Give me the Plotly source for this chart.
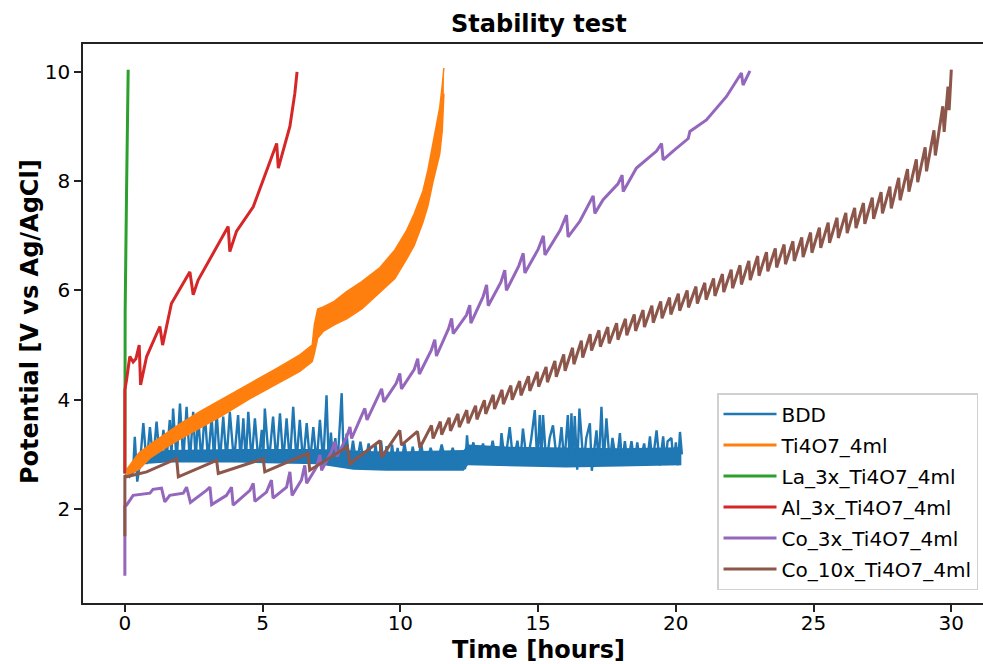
import plotly.graph_objects as go

# ---------------- data ----------------
# BDD: dense body of the signal (band) and its spikes
bdd_band_x = [0.15, 0.6, 1.5, 4.0, 7.0, 8.3, 9.5, 12.3, 12.45, 14.0, 16.0, 18.0, 20.2]
bdd_band_low = [2.55, 2.82, 2.85, 2.85, 2.82, 2.72, 2.70, 2.70, 2.80, 2.78, 2.76, 2.78, 2.80]
bdd_band_high = [2.75, 3.02, 3.08, 3.10, 3.10, 3.08, 3.05, 3.08, 3.18, 3.14, 3.13, 3.11, 3.13]

bdd_x = [0.12, 0.30, 0.36, 0.45, 0.55, 0.67, 0.79, 0.91, 1.03, 1.15, 1.28, 1.40, 1.51, 1.63, 1.69,
         1.75, 1.88, 2.00, 2.12, 2.24, 2.36, 2.48, 2.57, 2.66, 2.78, 2.90, 3.02, 3.15, 3.24, 3.33,
         3.45, 3.57, 3.69, 3.81, 3.96, 4.11, 4.20, 4.30, 4.39, 4.48, 4.60, 4.72, 4.85, 4.97, 5.02,
         5.08, 5.23, 5.38, 5.50, 5.63, 5.75, 5.87, 5.99, 6.11, 6.23, 6.35, 6.47, 6.60, 6.72, 6.84,
         6.96, 7.08, 7.20, 7.32, 7.40, 7.48, 7.56, 7.64, 7.72, 7.87, 7.95, 8.05, 8.15, 8.28, 8.41,
         8.55, 8.70, 8.85, 9.00, 9.10, 9.20, 9.30, 9.40, 9.50, 9.60, 9.70, 9.80, 9.90, 10.0, 10.15,
         10.3, 10.45, 10.6, 10.75, 10.9, 11.1, 11.3, 11.5, 11.7, 11.9, 12.1, 12.35, 12.42, 12.5, 12.65,
         12.8, 13.0, 13.2, 13.35, 13.5, 13.6, 13.67, 13.8, 13.97, 14.1, 14.25, 14.35, 14.45, 14.6, 14.75,
         14.88, 14.97, 15.06, 15.12, 15.18, 15.3, 15.42, 15.54, 15.7, 15.85, 15.95, 16.08, 16.15, 16.21, 16.27,
         16.33, 16.42, 16.50, 16.65, 16.75, 16.88, 16.95, 17.12, 17.2, 17.30, 17.38, 17.48, 17.6, 17.7, 17.85,
         17.97, 18.05, 18.15, 18.25, 18.39, 18.5, 18.6, 18.7, 18.85, 18.95, 19.06, 19.15, 19.30, 19.42, 19.54,
         19.62, 19.7, 19.84, 19.92, 20.0, 20.08, 20.15, 20.22]
bdd_y = [2.62, 2.70, 3.32, 2.50, 2.85, 3.57, 2.82, 3.50, 2.88, 3.60, 2.85, 3.45, 2.88, 3.63, 2.95,
         3.84, 2.87, 3.93, 2.88, 3.87, 2.86, 3.78, 2.90, 3.69, 2.86, 3.78, 2.88, 3.69, 2.87, 3.78,
         2.86, 3.69, 2.88, 3.78, 2.86, 3.72, 2.88, 3.66, 2.86, 3.78, 2.87, 3.66, 2.85, 3.45, 2.88,
         3.84, 2.86, 3.69, 2.85, 3.75, 2.86, 3.66, 2.84, 3.87, 2.86, 3.63, 2.84, 3.57, 2.85, 3.50,
         2.83, 3.63, 2.84, 4.08, 2.83, 3.40, 2.84, 3.30, 2.83, 4.12, 2.80, 3.38, 2.78, 3.25, 2.80,
         3.23, 2.78, 3.20, 2.75, 3.18, 2.74, 3.25, 2.75, 3.15, 2.74, 3.18, 2.72, 3.12, 2.73, 3.20,
         2.73, 3.14, 2.72, 3.22, 2.72, 3.12, 2.73, 3.18, 2.73, 3.12, 2.74, 2.75, 3.35, 2.85, 3.22,
         2.82, 3.20, 2.82, 3.25, 2.84, 2.82, 3.39, 2.85, 3.50, 2.85, 3.25, 2.84, 3.47, 2.82, 3.28,
         3.81, 2.85, 3.72, 2.86, 3.72, 2.82, 3.30, 3.53, 2.80, 3.50, 2.82, 3.72, 2.80, 3.75, 2.82,
         3.70, 2.72, 3.84, 2.80, 3.30, 3.57, 2.70, 3.44, 2.80, 3.87, 2.82, 3.66, 2.84, 3.30, 2.82,
         3.39, 2.82, 3.24, 2.82, 3.24, 2.82, 3.22, 2.84, 3.20, 2.82, 3.33, 2.82, 3.44, 2.80, 3.33,
         2.82, 3.24, 3.30, 2.82, 3.22, 2.80, 3.41, 3.00]

# Ti4O7_4ml: thick oscillating band (upper / lower envelope)
ti_x = [0.06, 0.5, 0.91, 1.5, 2.0, 2.72, 3.5, 4.54, 5.5, 6.35, 6.8, 6.88, 7.0, 7.2, 7.6, 8.05,
        8.6, 9.26, 9.8, 10.23, 10.5, 10.82, 11.0, 11.18, 11.3, 11.43, 11.52, 11.58]
ti_upper = [2.72, 3.02, 3.18, 3.38, 3.56, 3.78, 4.00, 4.30, 4.57, 4.82, 5.00, 5.38, 5.66, 5.70, 5.80, 5.98,
            6.16, 6.42, 6.74, 7.10, 7.40, 7.82, 8.20, 8.68, 9.00, 9.35, 9.75, 10.07]
ti_lower = [2.62, 2.72, 2.93, 3.13, 3.28, 3.48, 3.70, 4.02, 4.28, 4.52, 4.70, 4.85, 5.13, 5.25, 5.37, 5.48,
            5.66, 5.96, 6.22, 6.58, 6.82, 7.25, 7.55, 7.98, 8.22, 8.50, 8.92, 9.60]

# La_3x_Ti4O7_4ml
la_x = [0.0, 0.0, 0.0, 0.01, 0.06, 0.12]
la_y = [2.65, 4.27, 5.45, 5.60, 7.78, 10.04]

# Al_3x_Ti4O7_4ml
al_x = [0.0, 0.0, 0.06, 0.18, 0.30, 0.40, 0.52, 0.57, 0.79, 1.27, 1.37, 1.69, 2.36, 2.48, 2.66,
        3.75, 3.81, 4.05, 4.66, 5.51, 5.57, 5.99, 6.17, 6.25]
al_y = [2.65, 4.18, 4.36, 4.79, 4.69, 4.75, 5.00, 4.27, 4.79, 5.34, 5.00, 5.76, 6.34, 5.92, 6.19,
        7.17, 6.71, 7.08, 7.53, 8.69, 8.24, 9.00, 9.61, 10.00]

# Co_3x_Ti4O7_4ml
co3_x = [0.0, 0.0, 0.0, 0.06, 0.3, 0.91, 1.02, 1.33, 1.45, 1.63, 2.12, 2.24, 2.38, 2.96, 3.09,
         3.15, 3.69, 3.87, 3.93, 4.54, 4.66, 4.72, 5.14, 5.32, 5.38, 5.87, 5.99, 6.07, 6.41, 6.53,
         6.6, 6.96, 7.08, 7.14, 7.5, 7.62, 7.7, 8.05, 8.17, 8.23, 8.59, 8.71, 8.79, 9.19, 9.32,
         9.4, 9.85, 9.98, 10.04, 10.5, 10.63, 10.69, 11.12, 11.25, 11.31, 11.75, 11.86, 11.92, 12.4, 12.52,
         12.56, 13.0, 13.13, 13.19, 13.65, 13.79, 13.85, 14.3, 14.46, 14.52, 15.0, 15.19, 15.25, 15.8, 16.03,
         16.09, 16.52, 17.0, 17.06, 17.36, 17.9, 18.05, 18.09, 18.57, 19.3, 19.48, 19.54, 19.9, 20.45, 20.51,
         21.11, 21.84, 22.38, 22.44, 22.69]
co3_y = [0.78, 1.56, 2.05, 2.07, 2.25, 2.29, 2.36, 2.38, 2.13, 2.25, 2.29, 2.40, 2.12, 2.34, 2.40,
         2.08, 2.25, 2.40, 2.07, 2.34, 2.47, 2.14, 2.31, 2.53, 2.20, 2.40, 2.68, 2.25, 2.53, 2.80,
         2.47, 2.77, 2.99, 2.71, 3.05, 3.23, 2.96, 3.32, 3.50, 3.29, 3.69, 3.84, 3.63, 4.05, 4.20,
         3.96, 4.30, 4.48, 4.20, 4.55, 4.75, 4.47, 4.90, 5.10, 4.80, 5.30, 5.49, 5.21, 5.55, 5.73,
         5.40, 5.88, 6.10, 5.72, 6.15, 6.37, 6.00, 6.45, 6.68, 6.32, 6.75, 7.00, 6.65, 7.10, 7.38,
         6.98, 7.27, 7.73, 7.41, 7.66, 7.95, 8.11, 7.81, 8.24, 8.55, 8.69, 8.39, 8.55, 8.78, 8.91,
         9.12, 9.55, 9.98, 9.76, 10.02]

# Co_10x_Ti4O7_4ml
co10_x = [0.0, 0.0, 0.06, 0.79, 1.88, 1.94, 3.33, 3.39, 5.02, 5.08, 6.65, 6.71, 8.08, 8.17, 9.26,
          9.32, 9.98, 10.04, 10.62, 10.71, 11.13, 11.19,
          11.45, 11.50, 11.77, 11.82, 12.09, 12.14, 12.41, 12.46, 12.73, 12.78, 13.05, 13.10, 13.37, 13.42,
          13.69, 13.74, 14.01, 14.06, 14.33, 14.38, 14.65, 14.70, 14.97, 15.02, 15.29, 15.34, 15.61, 15.66,
          15.93, 15.98, 16.25, 16.30, 16.57, 16.62, 16.89, 16.94, 17.21, 17.26, 17.53, 17.58, 17.85, 17.90,
          18.17, 18.22, 18.49, 18.54, 18.81, 18.86, 19.13, 19.18, 19.45, 19.50, 19.77, 19.82, 20.09, 20.14,
          20.41, 20.46, 20.73, 20.78, 21.05, 21.10, 21.37, 21.42, 21.69, 21.74, 22.01, 22.06, 22.33, 22.38,
          22.65, 22.70, 22.97, 23.02, 23.29, 23.34, 23.61, 23.66, 23.93, 23.98, 24.25, 24.30, 24.57, 24.62,
          24.89, 24.94, 25.21, 25.26, 25.53, 25.58, 25.85, 25.90, 26.17, 26.22, 26.49, 26.54, 26.81, 26.86,
          27.13, 27.18, 27.45, 27.50, 27.77, 27.82, 28.09, 28.14, 28.41, 28.46, 28.73, 28.78, 29.05, 29.10,
          29.37, 29.42, 29.69, 29.74, 29.88, 29.92, 30.0]
co10_y = [1.50, 2.62, 2.59, 2.68, 2.92, 2.59, 2.89, 2.65, 2.92, 2.68, 3.02, 2.71, 3.14, 2.83, 3.25,
          2.95, 3.44, 3.17, 3.42, 3.12, 3.53, 3.29,
          3.60, 3.36, 3.67, 3.43, 3.74, 3.50, 3.81, 3.57, 3.89, 3.64, 3.99, 3.74, 4.09, 3.83,
          4.18, 3.92, 4.26, 4.00, 4.34, 4.08, 4.43, 4.16, 4.51, 4.24, 4.60, 4.32, 4.71, 4.42,
          4.83, 4.53, 4.95, 4.65, 5.08, 4.77, 5.20, 4.90, 5.27, 4.97, 5.33, 5.03, 5.40, 5.10,
          5.48, 5.18, 5.56, 5.26, 5.64, 5.33, 5.72, 5.41, 5.80, 5.49, 5.87, 5.56, 5.94, 5.63,
          6.00, 5.69, 6.07, 5.76, 6.14, 5.83, 6.22, 5.90, 6.30, 5.97, 6.38, 6.04, 6.46, 6.11,
          6.54, 6.19, 6.63, 6.27, 6.70, 6.35, 6.77, 6.42, 6.84, 6.48, 6.90, 6.54, 6.97, 6.61,
          7.06, 6.69, 7.15, 6.78, 7.24, 6.87, 7.33, 6.96, 7.42, 7.05, 7.51, 7.14, 7.60, 7.22,
          7.70, 7.31, 7.80, 7.41, 7.90, 7.50, 8.06, 7.65, 8.22, 7.81, 8.40, 7.98, 8.62, 8.18,
          8.93, 8.47, 9.37, 8.90, 9.73, 9.30, 10.04]

for a, b in [(bdd_x, bdd_y), (bdd_band_x, bdd_band_low), (bdd_band_x, bdd_band_high),
             (ti_x, ti_upper), (ti_x, ti_lower), (la_x, la_y), (al_x, al_y),
             (co3_x, co3_y), (co10_x, co10_y)]:
    assert len(a) == len(b), (len(a), len(b))

x_ticks = [0, 5, 10, 15, 20, 25, 30]
y_ticks = [2, 4, 6, 8, 10]

# ---------------- styling ----------------
C_BLUE, C_ORANGE, C_GREEN = "#1f77b4", "#ff7f0e", "#2ca02c"
C_RED, C_PURPLE, C_BROWN = "#d62728", "#9467bd", "#8c564b"
FONT = "DejaVu Sans"
LW = 3

fig = go.Figure()

# BDD band + spikes
fig.add_trace(go.Scatter(x=bdd_band_x, y=bdd_band_low, mode="lines", line=dict(width=0, color=C_BLUE),
                         showlegend=False, hoverinfo="skip", legendgroup="g1"))
fig.add_trace(go.Scatter(x=bdd_band_x, y=bdd_band_high, mode="lines", line=dict(width=0, color=C_BLUE),
                         fill="tonexty", fillcolor=C_BLUE, showlegend=False, hoverinfo="skip",
                         legendgroup="g1"))
fig.add_trace(go.Scatter(x=bdd_x, y=bdd_y, mode="lines", line=dict(width=2.4, color=C_BLUE),
                         name="BDD", legendrank=1, legendgroup="g1"))

# Ti4O7 band
fig.add_trace(go.Scatter(x=ti_x, y=ti_lower, mode="lines", line=dict(width=1.5, color=C_ORANGE),
                         showlegend=False, hoverinfo="skip", legendgroup="g2"))
fig.add_trace(go.Scatter(x=ti_x, y=ti_upper, mode="lines", line=dict(width=1.5, color=C_ORANGE),
                         fill="tonexty", fillcolor=C_ORANGE, showlegend=False, hoverinfo="skip",
                         legendgroup="g2"))
fig.add_trace(go.Scatter(x=[None], y=[None], mode="lines", line=dict(width=LW, color=C_ORANGE),
                         name="Ti4O7_4ml", legendrank=2, legendgroup="g2"))

fig.add_trace(go.Scatter(x=la_x, y=la_y, mode="lines", line=dict(width=LW, color=C_GREEN),
                         name="La_3x_Ti4O7_4ml", legendrank=3, legendgroup="g3"))
fig.add_trace(go.Scatter(x=al_x, y=al_y, mode="lines", line=dict(width=LW, color=C_RED),
                         name="Al_3x_Ti4O7_4ml", legendrank=4, legendgroup="g4"))
fig.add_trace(go.Scatter(x=co3_x, y=co3_y, mode="lines", line=dict(width=LW, color=C_PURPLE),
                         name="Co_3x_Ti4O7_4ml", legendrank=5, legendgroup="g5"))
fig.add_trace(go.Scatter(x=co10_x, y=co10_y, mode="lines", line=dict(width=LW, color=C_BROWN),
                         name="Co_10x_Ti4O7_4ml", legendrank=6, legendgroup="g6"))

W, H = 983, 664
ML, MR, MT, MB = 83, 0, 44, 61
pw, ph = W - ML - MR, H - MT - MB

def px_to_paper_x(px):
    return (px - ML) / pw

def px_to_paper_y(py):
    return (H - MB - py) / ph

axis_common = dict(showgrid=False, zeroline=False, showline=True, linecolor="#222222", linewidth=1.6,
                   ticks="outside", ticklen=7, tickwidth=1.6, tickcolor="#222222",
                   tickfont=dict(family=FONT, size=20, color="black"))

fig.update_layout(
    width=W, height=H,
    margin=dict(l=ML, r=MR, t=MT, b=MB, pad=0),
    plot_bgcolor="white", paper_bgcolor="white",
    font=dict(family=FONT, color="black"),
    xaxis=dict(range=[-1.52, 31.15], tickvals=x_ticks, mirror=True, ticklabelstandoff=-6,
               **axis_common),
    yaxis=dict(range=[0.28, 10.51], tickvals=y_ticks, mirror=False, **axis_common),
    showlegend=True,
    legend=dict(x=px_to_paper_x(717), y=px_to_paper_y(393), xanchor="left", yanchor="top",
                bgcolor="rgba(255,255,255,0.85)", bordercolor="#d0d0d0", borderwidth=1.5,
                font=dict(family=FONT, size=20, color="black"), tracegroupgap=2,
                itemwidth=53, traceorder="grouped", groupclick="toggleitem"),
    annotations=[
        dict(text="<b>Stability test</b>", xref="paper", yref="paper",
             x=px_to_paper_x(538.5), y=px_to_paper_y(24), xanchor="center", yanchor="middle",
             showarrow=False, font=dict(family=FONT, size=24, color="black")),
        dict(text="<b>Time [hours]</b>", xref="paper", yref="paper",
             x=px_to_paper_x(538.5), y=px_to_paper_y(650), xanchor="center", yanchor="middle",
             showarrow=False, font=dict(family=FONT, size=24, color="black")),
        dict(text="<b>Potential [V vs Ag/AgCl]</b>", xref="paper", yref="paper",
             x=px_to_paper_x(30), y=px_to_paper_y(322), xanchor="center", yanchor="middle",
             textangle=-90, showarrow=False, font=dict(family=FONT, size=24, color="black")),
    ],
)

fig.write_html("out.html", config={"displayModeBar": False},
               post_script="document.body.style.margin='0px';")
